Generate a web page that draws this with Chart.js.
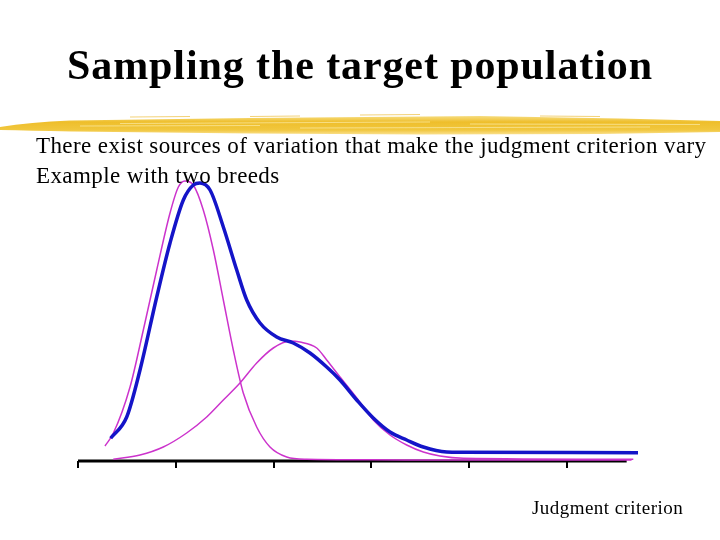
<!DOCTYPE html>
<html>
<head>
<meta charset="utf-8">
<script src="https://cdn.jsdelivr.net/npm/chart.js@4/dist/chart.umd.min.js"></script>
<style>
  html, body { margin:0; padding:0; background:#fff; }
  #wrap { position:relative; width:720px; height:540px; overflow:hidden; }
  #c { position:absolute; left:0; top:0; }
  .t { position:absolute; white-space:nowrap; font-family:"Liberation Serif","Times New Roman",serif; line-height:1; color:#000; }
  #title { left:0; width:720px; text-align:center; top:44px; font-size:42px; font-weight:bold; letter-spacing:0.9px; }
  #l1 { left:36px; top:134px; font-size:23px; letter-spacing:0.4px; }
  #l2 { left:36px; top:164px; font-size:23px; letter-spacing:0.4px; }
  #xl { left:532px; top:498px; font-size:19px; letter-spacing:0.45px; }
</style>
</head>
<body>
<div id="wrap">
  <canvas id="c" width="720" height="540"></canvas>
  <div class="t" id="title">Sampling the target population</div>
  <div class="t" id="l1">There exist sources of variation that make the judgment criterion vary</div>
  <div class="t" id="l2">Example with two breeds</div>
  <div class="t" id="xl">Judgment criterion</div>
</div>
<script>
// Tick positions on the judgment-criterion axis
const xTicks = [0, 1, 2, 3, 4, 5];

// Combined distribution (thick blue)
const totalX = [0.334, 0.498, 0.634, 0.805, 0.941, 1.077, 1.179, 1.247, 1.350, 1.486, 1.623, 1.725, 1.861, 2.032, 2.201, 2.372, 2.543, 2.679, 2.850, 3.019, 3.190, 3.361, 3.531, 3.770, 3.923, 5.726];
const totalY = [22.7, 44, 91, 164, 218, 261, 276, 278, 271, 234, 191, 161, 138, 124, 118, 108, 94, 81, 61, 43, 29, 21, 14, 9, 8.7, 8.3];

// Breed 1 (thin magenta, left)
const breed1X = [0.276, 0.361, 0.532, 0.668, 0.805, 0.941, 1.026, 1.094, 1.179, 1.281, 1.384, 1.486, 1.588, 1.690, 1.827, 1.963, 2.134, 2.338, 3.0, 4.0, 5.66];
const breed1Y = [15, 27.7, 74, 131, 191, 248, 274, 280, 276, 251, 211, 161, 111, 68, 34, 14, 4, 1.7, 1.2, 1.0, 1.0];

// Breed 2 (thin magenta, right)
const breed2X = [0.361, 0.634, 0.872, 1.111, 1.316, 1.486, 1.656, 1.827, 1.997, 2.168, 2.270, 2.441, 2.543, 2.679, 2.850, 3.019, 3.190, 3.361, 3.531, 3.701, 3.940, 5.678];
const breed2Y = [1.7, 6, 14, 28, 44, 61, 78, 98, 113, 120, 119, 113, 101, 84, 63, 41, 26, 16, 9, 5, 2.7, 1.7];

// Axis baseline extent
const axisX = [0, 5.61];
const axisY = [0, 0];

const pts = (xs, ys) => xs.map((x, i) => ({ x: x, y: ys[i] }));

const brush = {
  id: 'brush',
  beforeDraw(chart) {
    const ctx = chart.ctx;
    ctx.save();
    const g = ctx.createLinearGradient(0, 115, 0, 135);
    g.addColorStop(0, 'rgba(246,220,120,0.85)');
    g.addColorStop(0.35, 'rgba(238,188,36,0.97)');
    g.addColorStop(0.75, 'rgba(240,196,52,0.95)');
    g.addColorStop(1, 'rgba(248,215,110,0.75)');
    ctx.fillStyle = g;
    ctx.beginPath();
    ctx.moveTo(0, 127);
    ctx.quadraticCurveTo(30, 122, 70, 120.5);
    ctx.lineTo(250, 118);
    ctx.lineTo(480, 116);
    ctx.lineTo(620, 118.5);
    ctx.lineTo(720, 121);
    ctx.lineTo(720, 132);
    ctx.lineTo(600, 134);
    ctx.lineTo(420, 134.5);
    ctx.lineTo(250, 133.5);
    ctx.lineTo(70, 131.5);
    ctx.quadraticCurveTo(30, 130.5, 0, 130);
    ctx.closePath();
    ctx.fill();
    ctx.strokeStyle = 'rgba(250,232,160,0.75)';
    ctx.lineWidth = 1;
    [[120, 123.5, 430, 122], [300, 128, 650, 127], [80, 126, 260, 125.5], [470, 124, 700, 124.5]].forEach(s => {
      ctx.beginPath(); ctx.moveTo(s[0], s[1]); ctx.lineTo(s[2], s[3]); ctx.stroke();
    });
    ctx.strokeStyle = 'rgba(235,180,30,0.6)';
    [[360, 115, 420, 114.5], [130, 117, 190, 116.5], [540, 116, 600, 116.5], [250, 116.5, 300, 116]].forEach(s => {
      ctx.beginPath(); ctx.moveTo(s[0], s[1]); ctx.lineTo(s[2], s[3]); ctx.stroke();
    });
    ctx.restore();
  }
};

const xMax = 5.8;
const unitPx = 97.8;

const lineDs = (d, color, w, order) => ({
  data: d, borderColor: color, borderWidth: w, pointRadius: 0,
  cubicInterpolationMode: 'monotone', clip: false, order: order
});

new Chart(document.getElementById('c'), {
  type: 'line',
  data: {
    datasets: [
      { data: pts(axisX, axisY), borderColor: '#000', borderWidth: 3, pointRadius: 0, tension: 0, clip: false, order: 4 },
      lineDs(pts(breed1X, breed1Y), '#cc33cc', 1.5, 2),
      lineDs(pts(breed2X, breed2Y), '#cc33cc', 1.5, 3),
      lineDs(pts(totalX, totalY), '#1414c8', 3.5, 1)
    ]
  },
  options: {
    responsive: false,
    animation: false,
    devicePixelRatio: 1,
    layout: { padding: { left: 78, right: 720 - (78 + xMax * unitPx), top: 171, bottom: 72 } },
    plugins: { legend: { display: false }, tooltip: { enabled: false }, title: { display: false } },
    scales: {
      x: {
        type: 'linear', min: 0, max: xMax,
        afterBuildTicks: (s) => { s.ticks = xTicks.map(v => ({ value: v })); },
        ticks: { display: false },
        grid: { display: true, drawOnChartArea: false, drawTicks: true, tickLength: 7, color: '#000', lineWidth: 2 },
        border: { display: false }
      },
      y: { type: 'linear', min: 0, max: 290, display: false }
    }
  },
  plugins: [brush]
});
</script>
</body>
</html>
